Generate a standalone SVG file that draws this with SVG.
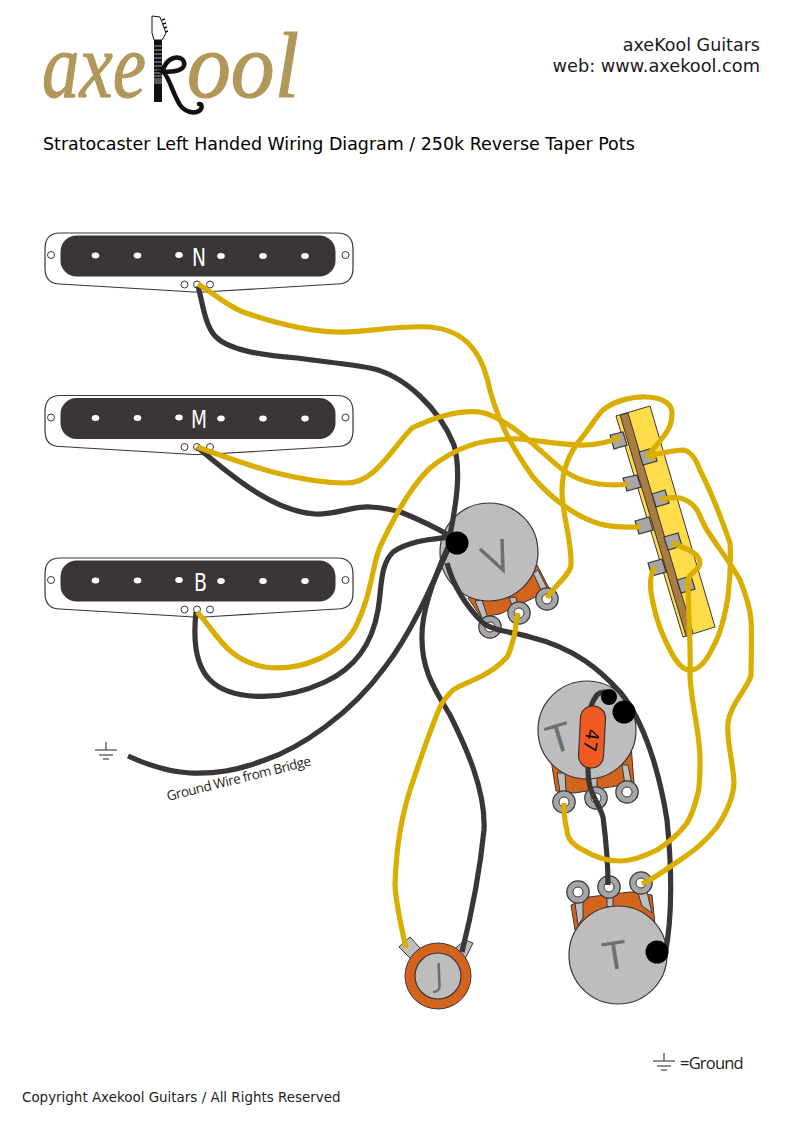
<svg xmlns="http://www.w3.org/2000/svg" width="795" height="1123" viewBox="0 0 795 1123">
<style>
text{font-family:"DejaVu Sans",sans-serif}
.hdr{font-size:17.500px;fill:#1a1a1a}
.w{fill:none;stroke-width:5.200;stroke-linecap:butt;stroke-linejoin:round}
.y{stroke:#d9ae00}
.k{stroke:#3a3536}
.pot{fill:#bdbdbd;stroke:#3a3536;stroke-width:1.200}
.plate{fill:#d2641e;stroke:#3a3536;stroke-width:1}
.lug{fill:#a7a6a6;stroke:#3a3536;stroke-width:1.200}
.hole{fill:#fff;stroke:#3a3536;stroke-width:1}
.arm{fill:#bdbdbd;stroke:#3a3536;stroke-width:1}
.tab{fill:#a7a6a6;stroke:#3a3536;stroke-width:1.200}
.lbl{font-size:38px;fill:#6d6e70;text-anchor:middle}
.gl{fill:none;stroke:#231f20;stroke-width:1}
.pl{fill:#fff;stroke:#3a3536;stroke-width:1.200}
.pb{fill:#3a3536}
.pp{fill:#fff}
.ph{fill:#fff;stroke:#3a3536;stroke-width:1}
.pt{font-size:25px;fill:#fff}
.logo{font-family:"Liberation Serif",serif;font-style:italic;font-size:94px;fill:#b2975a;stroke:#b2975a;stroke-width:1.200}
</style>
<defs>
<g id="pickup">
<path class="pl" d="M60 233H337Q353 233 353 249V268Q353 284 337 284L212 291.500Q199 292.500 186 291.500L60 284Q45 284 45 268V249Q45 233 60 233Z"/>
<rect class="pb" x="60.500" y="235.500" width="275" height="41" rx="16"/>
<ellipse class="pp" cx="95.500" cy="255.500" rx="3.800" ry="3"/>
<ellipse class="pp" cx="137.500" cy="255.500" rx="3.800" ry="3"/>
<ellipse class="pp" cx="179" cy="255" rx="3.800" ry="3"/>
<ellipse class="pp" cx="221" cy="256" rx="3.800" ry="3"/>
<ellipse class="pp" cx="263" cy="256" rx="3.800" ry="3"/>
<ellipse class="pp" cx="305" cy="256" rx="3.800" ry="3"/>
<circle class="ph" cx="51" cy="255" r="3.500"/>
<circle class="ph" cx="345.500" cy="255" r="3.500"/>
<circle class="ph" cx="184.500" cy="284.500" r="3.500"/>
<circle class="ph" cx="197" cy="284.500" r="3.500"/>
<circle class="ph" cx="210" cy="284.500" r="3.500"/>
</g>
<g id="gnd" class="gl">
<path d="M11 0V8M0 8H22M4 13H18M8 17H14"/>
</g>
</defs>

<g id="logo">
<text class="logo" x="42" y="97" textLength="104" lengthAdjust="spacingAndGlyphs">axe</text>
<text class="logo" x="187" y="97" textLength="112" lengthAdjust="spacingAndGlyphs">ool</text>
<path d="M152 16L160 17L166 33L162 40H154L152 33Z" fill="#fff" stroke="#111" stroke-width="1"/>
<path d="M162 20l3-1M163 24l3-1M164 28l3-1M165 32l3-1" stroke="#111" stroke-width="1.500"/>
<rect x="154" y="40" width="8" height="62" fill="#111"/>
<path d="M154 46h8M154 50h8M154 54h8M154 58h8M154 62h8M154 66h8M154 70h8M154 73h8M154 76h8M154 79h8M154 81h8M154 83h8" stroke="#ddd" stroke-width=".7"/>
<path d="M163 70C166 60 174 56 180 58C185 60 186 66 181 69C176 72 170 72 163 72C169 76 172 92 180 105C185 112 194 114 199 111C203 108 202 104 199 104" fill="none" stroke="#111" stroke-width="4.500" stroke-linecap="round"/>
</g>
<text class="hdr" x="760" y="51" text-anchor="end">axeKool Guitars</text>
<text class="hdr" x="760" y="72" text-anchor="end" style="font-size:17.750px">web: www.axekool.com</text>
<text x="43" y="150" font-size="17.450">Stratocaster Left Handed Wiring Diagram / 250k Reverse Taper Pots</text>
<text x="22" y="1102" font-size="13.450" fill="#231f20">Copyright Axekool Guitars / All Rights Reserved</text>

<g id="pickup-n"><use href="#pickup"/><text class="pt" x="192" y="266" textLength="14" lengthAdjust="spacingAndGlyphs">N</text></g>
<g id="pickup-m"><use href="#pickup" y="162.500"/><text class="pt" x="191" y="428" textLength="16" lengthAdjust="spacingAndGlyphs">M</text></g>
<g id="pickup-b"><use href="#pickup" y="325"/><text class="pt" x="194" y="591" textLength="13" lengthAdjust="spacingAndGlyphs">B</text></g>

<g id="switch">
<polygon points="616,416 650,406 715,627 683,637" fill="#ffdd4a" stroke="#3a3536" stroke-width="1"/>
<polygon points="620,415 628,413 693,633 686,636" fill="#a97c42" stroke="#3a3536" stroke-width="1"/>
<polygon class="tab" points="610,435 623,432 627,445 614,449"/>
<polygon class="tab" points="623,478 637,475 641,487 627,491"/>
<polygon class="tab" points="635,521 649,517 653,530 639,534"/>
<polygon class="tab" points="648,563 662,559 666,572 652,576"/>
<polygon class="tab" points="639,452 653,448 657,461 643,465"/>
<polygon class="tab" points="652,494 665,490 669,503 656,507"/>
<polygon class="tab" points="664,537 678,533 682,546 668,550"/>
<polygon class="tab" points="677,580 691,576 695,589 681,593"/>
</g>

<g id="pot-volume">
<polygon class="plate" points="468,598 481,617 500,614 550,590 537,565"/>
<polygon class="arm" points="475,601 482,600 488,618 483,620"/>
<polygon class="arm" points="509,598 516,597 517,603 512,605"/>
<polygon class="arm" points="533,573 538,570 548,590 542,592"/>
<circle class="lug" cx="490" cy="627" r="11.200"/><circle class="hole" cx="490" cy="627" r="5"/>
<circle class="lug" cx="519" cy="613" r="11.200"/><circle class="hole" cx="519" cy="613" r="5"/>
<circle class="lug" cx="547" cy="599" r="11.200"/><circle class="hole" cx="547" cy="599" r="5"/>
<circle class="pot" cx="489" cy="552" r="49"/>
<path d="M480 549L503 570L502 539" fill="none" stroke="#6d6e70" stroke-width="3.500"/>
</g>

<g id="pot-tone-1">
<polygon class="plate" points="551,760 631,745 634,783 575,793 556,791"/>
<polygon class="arm" points="557,773 565,773 566,792 560,792"/>
<polygon class="arm" points="590,776 597,776 597,792 590,792"/>
<polygon class="arm" points="622,765 628,765 632,785 625,785"/>
<circle class="lug" cx="564" cy="802" r="11.200"/><circle class="hole" cx="564" cy="802" r="5"/>
<circle class="lug" cx="596" cy="798" r="11.200"/><circle class="hole" cx="596" cy="798" r="5"/>
<circle class="lug" cx="627" cy="792" r="11.200"/><circle class="hole" cx="627" cy="792" r="5"/>
<circle class="pot" cx="587" cy="730" r="49"/>
<text class="lbl" transform="translate(563 751) rotate(-17)">T</text>
</g>

<g id="pot-tone-2">
<polygon class="plate" points="571,905 575,930 655,925 652,895 630,892 589,897"/>
<polygon class="arm" points="575,903 583,902 583,918 578,925"/>
<polygon class="arm" points="607,896 613,896 613,907 607,907"/>
<polygon class="arm" points="638,893 647,892 652,913 642,906"/>
<circle class="lug" cx="578" cy="892" r="11.200"/><circle class="hole" cx="578" cy="892" r="5"/>
<circle class="lug" cx="609" cy="887" r="11.200"/><circle class="hole" cx="609" cy="887" r="5"/>
<circle class="lug" cx="641" cy="883" r="11.200"/><circle class="hole" cx="641" cy="883" r="5"/>
<circle class="pot" cx="618" cy="955" r="49"/>
<text class="lbl" transform="translate(617 969) rotate(-9)">T</text>
</g>

<g id="jack">
<polygon class="arm" points="399,947 410,937 420,948 410,958"/>
<polygon class="arm" points="465,940 473,943 463,963 450,953"/>
<circle class="plate" cx="438" cy="976" r="33"/>
<circle class="pot" cx="438" cy="976" r="23"/>
<path d="M438.500 963L439.500 985Q440 992 433 992" fill="none" stroke="#6d6e70" stroke-width="2.500"/>
</g>

<g id="connectors">
<path class="w k" d="M198 286C203 305 205 325 215 336C228 350 260 355 297 358C325 362 350 364 370 368C405 375 440 410 454 445C461 470 457 500 450 535"/>
<path class="w k" d="M197 447C225 470 270 511 315 514C335 515 352 506 370 507C385 508 395 510 403 513C420 520 435 527 450 536"/>
<path class="w k" d="M196 612C193 640 195 665 210 680C230 700 280 703 325 682C355 668 372 645 378 610C382 585 380 565 393 552C410 540 435 539 450 537"/>
<path class="w k" d="M128 756C150 766 170 772 190 773C215 774 235 771 265 760C300 748 350 715 385 667C410 635 430 590 450 545"/>
<path class="w k" d="M462 952C470 920 480 870 484 830C486 790 465 745 450 715C435 690 421 670 422 635C422 610 433 580 448 547"/>
<path class="w k" d="M447 563C453 585 466 606 483 623C495 632 515 632 530 637C575 648 600 670 620 692C645 722 660 775 667 820C671 860 673 915 665 955"/>
<path class="w k" d="M612 694C603 690 597 693 595 698C590 705 589 715 588 730V770C588 778 589 783 590 787C593 797 600 807 603 817C606 840 608 865 608 885"/>
<path class="w y" d="M198 284C212 292 225 305 243 312C275 323 305 331 337 332C365 333 395 325 430 327C465 330 480 352 487 378C495 415 510 445 533 477C550 497 575 517 600 524C615 528 630 527 640 527"/>
<path class="w y" d="M197 447C240 462 290 482 345 483C375 484 392 448 412 428C435 417 460 410 480 412C510 418 540 452 563 470C585 486 610 486 628 484"/>
<path class="w y" d="M197 612C215 630 225 660 265 667C300 672 340 655 355 628C372 595 372 565 380 547C395 515 412 485 430 468C455 448 480 438 520 439C555 442 590 452 620 437"/>
<path class="w y" d="M547 598C555 585 570 575 571 565C572 540 562 515 562 490C562 470 570 452 580 440C590 428 595 418 603 410C615 400 635 396 647 397C665 398 672 405 672 413C672 425 668 431 663 437C658 444 652 450 648 455L655 459"/>
<path class="w y" d="M648 455C660 455 670 450 683 450C692 451 697 462 700 470C710 490 722 520 730 543C731 560 730 580 728 597C725 615 720 635 713 647C708 658 700 670 690 670C682 670 675 660 670 650C662 635 656 618 653 603C650 590 649 575 655 567"/>
<path class="w y" d="M660 499C668 498 672 497 680 498C688 500 693 504 697 510C701 517 703 524 707 530C717 546 732 565 740 580C746 595 750 607 751 620C752 640 751 660 751 676C745 692 730 705 728 723C726 740 733 760 734 783C733 800 725 815 717 827C705 842 695 850 680 860C665 870 655 878 642 884"/>
<path class="w y" d="M672 543C685 548 700 553 700 563C699 572 688 572 688 582C688 610 691 645 690 673C690 700 700 730 700 760C700 775 700 785 698 793C695 805 692 815 687 823C678 835 668 843 657 850C645 856 633 861 620 861C605 861 593 856 583 850C573 845 567 838 567 830C564 820 564 812 564 803"/>
<path class="w y" d="M518 613C515 625 516 632 513 640C511 648 510 652 507 657C500 665 490 672 480 677C470 682 460 685 453 690C447 696 443 701 440 707C430 730 420 760 410 790C402 815 396 850 395 885C396 905 402 930 406 948"/>
</g>

<g id="capacitor">
<rect x="579.500" y="706" width="25" height="62" rx="12" transform="rotate(3 592 737)" fill="#f15a22" stroke="#3a3536" stroke-width="1.200"/>
<text transform="translate(587 728) rotate(100)" font-size="18" fill="#111">47</text>
</g>
<g id="solder">
<circle cx="457" cy="543" r="11.500" fill="#000"/>
<circle cx="609" cy="697" r="8" fill="#000"/>
<circle cx="624" cy="712" r="11.500" fill="#000"/>
<circle cx="657" cy="952" r="11.500" fill="#000"/>
</g>

<g id="ground-legend">
<use href="#gnd" x="95" y="742"/>
<use href="#gnd" x="653" y="1053"/>
<text x="680" y="1069" font-size="16.500" fill="#231f20" letter-spacing="-.8" style="font-family:'Open Sans',sans-serif">=Ground</text>
</g>
<text transform="translate(168 801) rotate(-14)" font-size="13.500" fill="#231f20" letter-spacing="-.5" style="font-family:'Open Sans',sans-serif">Ground Wire from Bridge</text>
</svg>
